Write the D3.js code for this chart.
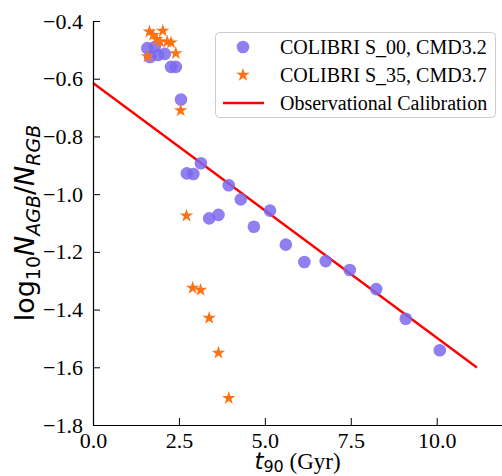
<!DOCTYPE html>
<html>
<head>
<meta charset="utf-8">
<script src="https://cdn.jsdelivr.net/npm/d3@7"></script>
<style>
  html, body { margin: 0; padding: 0; background: #fff; }
  svg { display: block; }
</style>
</head>
<body>
<svg id="chart" width="502" height="476"></svg>
<script>
// ---- data ----
const s00_t = [1.58, 1.66, 1.80, 1.89, 2.09, 2.27, 2.41, 2.56, 2.73, 2.92, 3.14, 3.38, 3.65, 3.95, 4.30, 4.68, 5.15, 5.61, 6.15, 6.77, 7.47, 8.24, 9.10, 10.09];
const s00_r = [-0.494, -0.525, -0.490, -0.518, -0.514, -0.559, -0.559, -0.672, -0.928, -0.930, -0.893, -1.084, -1.072, -0.969, -1.018, -1.113, -1.057, -1.175, -1.235, -1.232, -1.263, -1.329, -1.432, -1.541];
const s35_t = [1.64, 1.75, 1.85, 1.95, 2.03, 2.16, 2.27, 2.41, 1.59, 2.55, 2.72, 2.90, 3.13, 3.38, 3.65, 3.95];
const s35_r = [-0.437, -0.449, -0.463, -0.472, -0.434, -0.472, -0.475, -0.512, -0.523, -0.710, -1.075, -1.325, -1.332, -1.429, -1.550, -1.707];
const calib_t = [0.0, 11.17];
const calib_r = [-0.615, -1.601];
const xTicks = [0, 2.5, 5, 7.5, 10];
const xTickLabels = ["0.0", "2.5", "5.0", "7.5", "10.0"];
const yTicks = [-1.8, -1.6, -1.4, -1.2, -1.0, -0.8, -0.6, -0.4];
const yTickLabels = ["\u22121.8", "\u22121.6", "\u22121.4", "\u22121.2", "\u22121.0", "\u22120.8", "\u22120.6", "\u22120.4"];
const legendLabels = ["COLIBRI S_00, CMD3.2", "COLIBRI S_35, CMD3.7", "Observational Calibration"];

// ---- layout ----
const svg = d3.select("#chart");
const L = 93, T = 21, R = 502, B = 425;
const x = d3.scaleLinear().domain([0, 11.9]).range([L, R]);
const y = d3.scaleLinear().domain([-1.8, -0.4]).range([B, T]);
const serif = "'Liberation Serif', 'Times New Roman', serif";
const sans = "'DejaVu Sans', sans-serif";
const blue = "#7b68ee";
const orange = "#ff7214";

// calibration line
svg.append("path")
  .datum(calib_t.map((t, i) => [t, calib_r[i]]))
  .attr("d", d3.line().x(d => x(d[0])).y(d => y(d[1])))
  .attr("fill", "none").attr("stroke", "#ff0000").attr("stroke-width", 2.4);

// S_00 circles
svg.append("g").selectAll("circle")
  .data(s00_t.map((t, i) => [t, s00_r[i]]))
  .join("circle")
  .attr("cx", d => x(d[0])).attr("cy", d => y(d[1]))
  .attr("r", 6.3).attr("fill", blue).attr("fill-opacity", 0.85);

// S_35 stars
const star = d3.symbol().type(d3.symbolStar).size(56);
svg.append("g").selectAll("path")
  .data(s35_t.map((t, i) => [t, s35_r[i]]))
  .join("path")
  .attr("d", star)
  .attr("transform", d => `translate(${x(d[0])},${y(d[1])})`)
  .attr("fill", orange);

// axes (inward ticks, left & bottom spines only)
const xAxis = d3.axisBottom(x).tickValues(xTicks).tickFormat((d, i) => xTickLabels[i])
  .tickSizeInner(-7).tickSizeOuter(0).tickPadding(8);
const gx = svg.append("g").attr("transform", `translate(0,${B})`).call(xAxis);
const yAxis = d3.axisLeft(y).tickValues(yTicks).tickFormat((d, i) => yTickLabels[i])
  .tickSizeInner(-7).tickSizeOuter(0).tickPadding(10);
const gy = svg.append("g").attr("transform", `translate(${L},0)`).call(yAxis);
[gx, gy].forEach(g => {
  g.select(".domain").attr("stroke", "#000").attr("stroke-width", 1.2);
  g.selectAll(".tick line").attr("stroke", "#000").attr("stroke-width", 1);
  g.selectAll(".tick text").attr("fill", "#000").attr("font-family", serif).attr("font-size", 22);
});
gx.selectAll(".tick text").attr("dy", "0.66em");

// x label
const xl = svg.append("text").attr("x", x(0) + (R - L) / 2).attr("y", 469)
  .attr("text-anchor", "middle").attr("font-size", 23).attr("fill", "#000");
xl.append("tspan").attr("font-family", sans).attr("font-style", "italic").text("t");
xl.append("tspan").attr("font-family", sans).attr("font-size", 16).attr("dy", 3).text("90");
xl.append("tspan").attr("font-family", serif).attr("dy", -3).text(" (Gyr)");

// y label
const yl = svg.append("text")
  .attr("transform", `translate(34,${(T + B) / 2}) rotate(-90)`)
  .attr("text-anchor", "middle").attr("font-family", sans).attr("font-size", 27).attr("fill", "#000");
yl.append("tspan").text("log");
yl.append("tspan").attr("font-size", 19).attr("dy", 6).text("10");
yl.append("tspan").attr("font-style", "italic").attr("dy", -6).text("N");
yl.append("tspan").attr("font-style", "italic").attr("font-size", 19).attr("dy", 6).text("AGB");
yl.append("tspan").attr("dy", -6).text("/");
yl.append("tspan").attr("font-style", "italic").text("N");
yl.append("tspan").attr("font-style", "italic").attr("font-size", 19).attr("dy", 6).text("RGB");

// legend
const lg = svg.append("g");
lg.append("rect").attr("x", 215.5).attr("y", 32.5).attr("width", 280).attr("height", 85)
  .attr("rx", 4).attr("fill", "#fff").attr("fill-opacity", 0.85)
  .attr("stroke", "#cccccc").attr("stroke-width", 1);
const rowY = [47, 75, 103];
lg.append("circle").attr("cx", 243).attr("cy", rowY[0]).attr("r", 6.3).attr("fill", blue).attr("fill-opacity", 0.85);
lg.append("path").attr("d", star).attr("transform", `translate(243,${rowY[1]})`).attr("fill", orange);
lg.append("line").attr("x1", 223).attr("x2", 264).attr("y1", rowY[2]).attr("y2", rowY[2])
  .attr("stroke", "#ff0000").attr("stroke-width", 2.4);
lg.selectAll("text.lab").data(legendLabels).join("text").attr("class", "lab")
  .attr("x", 280).attr("y", (d, i) => rowY[i]).attr("dy", "0.35em")
  .attr("font-family", serif).attr("font-size", 20).attr("fill", "#000").text(d => d);
</script>
</body>
</html>
